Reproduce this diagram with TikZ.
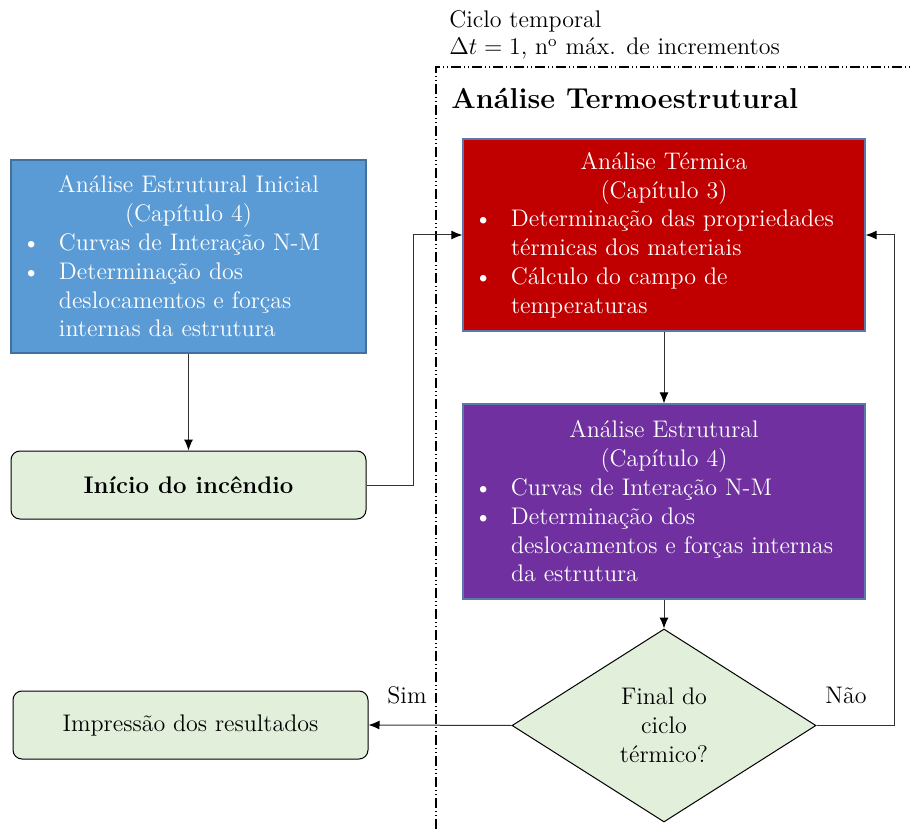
\documentclass[tikz,border=0pt]{standalone}
\usepackage{fontspec}
\usetikzlibrary{shapes.geometric,arrows.meta}
\definecolor{cblue}{RGB}{91,155,213}
\definecolor{cred}{RGB}{192,0,0}
\definecolor{cpurple}{RGB}{112,48,160}
\definecolor{cgreen}{RGB}{226,239,218}
\definecolor{cbord}{RGB}{65,113,156}
\definecolor{cbord2}{RGB}{90,120,170}
\definecolor{cline}{RGB}{50,50,50}
\newcommand{\myitem}[1]{\par\hangindent=16.5pt\hangafter=1\noindent\makebox[16.5pt][l]{\hspace{-2pt}\textbullet}#1}
\newcommand{\nohyph}{\hyphenpenalty=10000\exhyphenpenalty=10000\relax}
\tikzset{
  basefont/.style={font=\fontsize{12}{14.4}\selectfont},
  colbox/.style={basefont, rectangle, draw=cbord2, line width=0.6pt, text=white,
    inner xsep=7.5pt, inner ysep=2pt, anchor=center},
  roundbox/.style={basefont, rectangle, rounded corners=4.5pt, draw=black, line width=0.5pt,
    fill=cgreen, minimum width=177.5pt, minimum height=34pt, anchor=center},
  decision/.style={basefont, diamond, draw=black, line width=0.5pt, fill=cgreen,
    minimum width=152pt, minimum height=96.5pt, inner sep=0pt, align=center, anchor=center},
  arr/.style={draw=cline, line width=0.5pt, -{Latex[length=5.5pt,width=4.5pt,color=black]}},
  frameline/.style={draw=black, line width=0.6pt,
    dash pattern=on 5pt off 1.5pt on 0.5pt off 1.5pt on 0.5pt off 1.5pt},
  lbl/.style={basefont, inner sep=0pt}
}
\begin{document}
\begin{tikzpicture}[x=0.5pt,y=-0.5pt]
\useasboundingbox (0,0) rectangle (912,829);

% frame
\draw[frameline] (436,829) -- (436,67) -- (912,67);
\node[lbl, anchor=base west] (hdr1) at (449,28) {Ciclo temporal};
\node[lbl, anchor=base west] (hdr2) at (449,55) {$\Delta t=1$, n\textsuperscript{o} máx. de incrementos};
\node[lbl, anchor=base west, font=\fontsize{14.4}{17}\selectfont\bfseries] (title) at (451,109)
  {Análise Termoestrutural};

% boxes
\node[colbox, fill=cblue, draw=cbord, text width=162.5pt, minimum height=96.5pt] (blue) at (188.5,256.5)
  {\nohyph
   {\centering Análise Estrutural Inicial\\(Capítulo 4)\par}\raggedright\rightskip=3pt plus 2em
   \myitem{Curvas de Interação N-M}\myitem{Determinação dos deslocamentos e forças internas da estrutura}\par};

\node[roundbox] (inicio) at (188.5,485) {\bfseries Início do incêndio};

\node[colbox, fill=cred, text width=186pt, minimum height=96pt] (red) at (664,235)
  {\nohyph
   {\centering Análise Térmica\\(Capítulo 3)\par}\raggedright\rightskip=3pt plus 2em
   \myitem{Determinação das propriedades térmicas dos materiais}\myitem{Cálculo do campo de temperaturas}\par};

\node[colbox, fill=cpurple, text width=186pt, minimum height=97.5pt] (purple) at (664,501.5)
  {\nohyph
   {\centering Análise Estrutural\\(Capítulo 4)\par}\raggedright\rightskip=3pt plus 2em
   \myitem{Curvas de Interação N-M}\myitem{Determinação dos deslocamentos e forças internas da estrutura}\par};

\node[decision] (dia) at (664,725.5) {Final do\\ciclo\\térmico?};

\node[roundbox] (imp) at (190.5,725) {Impressão dos resultados};

% connectors
\coordinate (j1) at (413,0);
\coordinate (j2) at (894,0);
\draw[arr] (blue.south) -- (inicio.north);
\draw[arr] (inicio.east) -| (j1 |- red.west) -- (red.west);
\draw[arr] (red.south) -- (purple.north);
\draw[arr] (purple.south) -- (dia.north);
\draw[arr] (dia.east) -| (j2 |- red.east) -- (red.east);
\draw[arr] (dia.west) -- (imp.east);

\node[lbl] (sim) at (407,695) {Sim};
\node[lbl] (nao) at (846,695) {Não};
\end{tikzpicture}
\end{document}
